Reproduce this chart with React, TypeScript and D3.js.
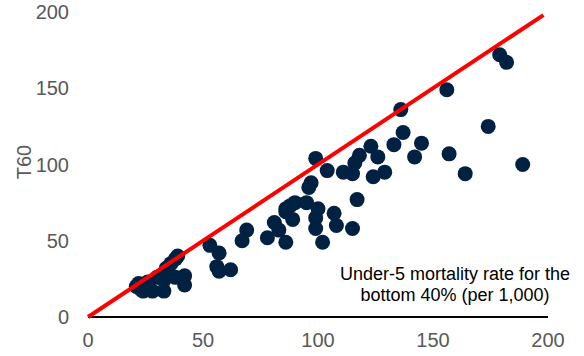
import React from "react";
import * as d3 from "d3";

const xTicks = [0, 50, 100, 150, 200];
const yTicks = [0, 50, 100, 150, 200];
const xLabelLines = ["Under-5 mortality rate for the", "bottom 40% (per 1,000)"];
const yLabel = "T60";

const u5Bottom40 = [
  21, 23, 24, 26, 28, 33, 22, 26, 30, 33, 35, 38, 34, 36, 39, 38, 42, 42,
  53, 57, 56, 57, 62, 69, 67, 78, 81, 83, 86, 86, 90, 86, 89, 88,
  136, 137, 133, 145, 142, 123, 126, 118, 116, 99, 104, 111, 115, 124, 129, 97, 96, 117, 95, 100, 107, 99, 108, 99, 115, 102,
  179, 182, 156, 174, 157, 164, 189,
];
const t60 = [
  20, 18, 17, 18, 17, 17, 22, 23, 26, 24, 29, 26, 32, 35, 40, 38, 27, 21,
  47, 42, 33, 30, 31, 57, 50, 52, 62, 57, 49, 71, 75, 69, 64, 73,
  136, 121, 113, 114, 105, 112, 105, 106, 101, 104, 96, 95, 94, 92, 95, 88, 85, 77, 75, 71, 68, 65, 60, 58, 58, 49,
  172, 167, 149, 125, 107, 94, 100,
];
const refLine = [0, 198];

const W = 584;
const H = 356;
const x = d3.scaleLinear().domain([0, 200]).range([88, 548]);
const y = d3.scaleLinear().domain([0, 200]).range([317, 12]);

export default function App() {
  const line = d3
    .line<number>()
    .x((d) => x(d))
    .y((d) => y(d));
  return (
    <svg
      width={W}
      height={H}
      style={{ position: "absolute", left: 0, top: 0, background: "#fff" }}
      fontFamily="'Liberation Sans', Arial, sans-serif"
    >
      {yTicks.map((t) => (
        <text key={"y" + t} x={69} y={y(t)} dy="0.35em" textAnchor="end" fontSize={20} fill="#595959">
          {t}
        </text>
      ))}
      {xTicks.map((t) => (
        <text key={"x" + t} x={x(t)} y={340} dy="0.35em" textAnchor="middle" fontSize={20} fill="#595959">
          {t}
        </text>
      ))}
      <text
        transform={`translate(31,162) rotate(-90)`}
        textAnchor="middle"
        fontSize={20}
        fill="#595959"
      >
        {yLabel}
      </text>
      <line x1={x(0)} x2={x(200)} y1={y(0)} y2={y(0)} stroke="#000" strokeWidth={2} />
      {u5Bottom40.map((v, i) => (
        <circle key={i} cx={x(v)} cy={y(t60[i])} r={7.5} fill="#002142" />
      ))}
      <path d={line(refLine) || ""} stroke="#ff0000" strokeWidth={4} fill="none" />
      {xLabelLines.map((s, i) => (
        <text key={s} x={455} y={280 + i * 21} textAnchor="middle" fontSize={18} fill="#000">
          {s}
        </text>
      ))}
    </svg>
  );
}
